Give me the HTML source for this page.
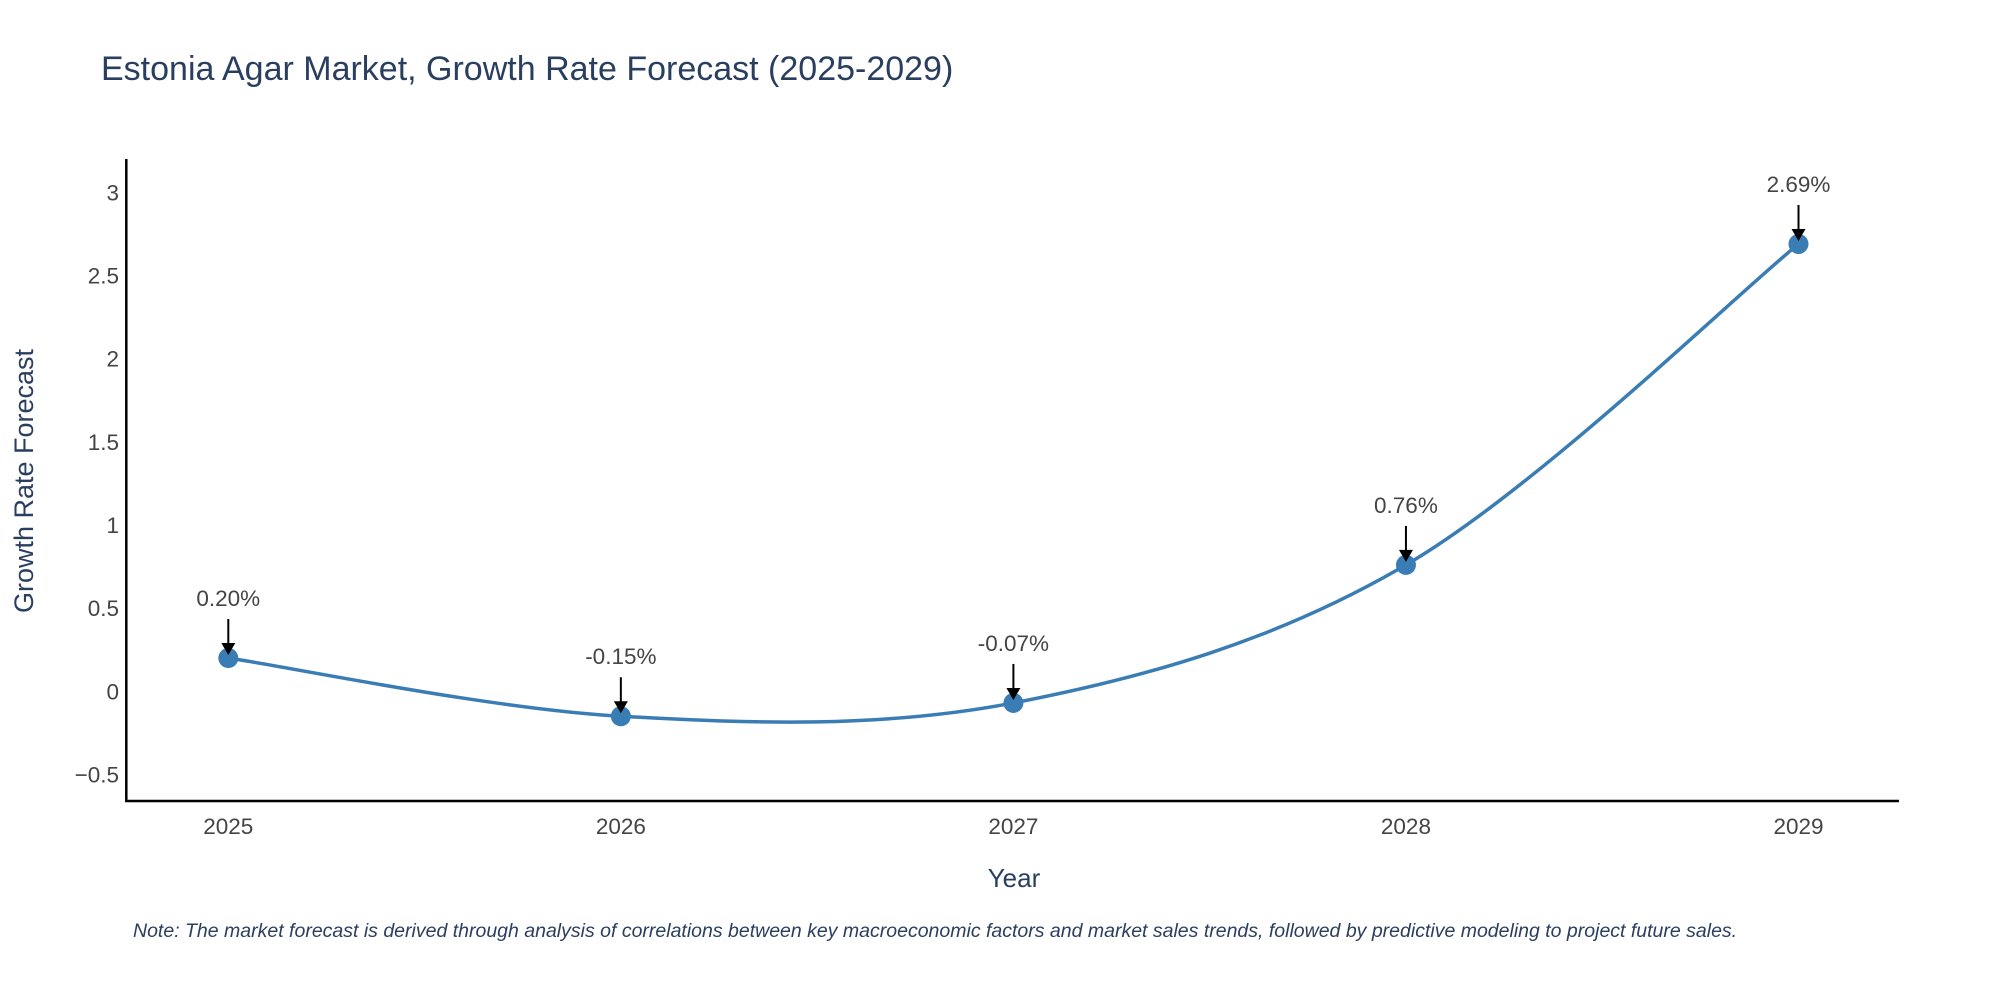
<!DOCTYPE html>
<html><head><meta charset="utf-8"><style>
body{margin:0;background:#fff}
svg{display:block;font-family:"Liberation Sans",sans-serif}
</style></head><body>
<svg id="chart" width="2000" height="1000" viewBox="0 0 2000 1000">
<text x="101" y="80" font-size="34" fill="#2a3f5f">Estonia Agar Market, Growth Rate Forecast (2025-2029)</text>
<g id="yticks"></g>
<g id="xticks"></g>
<line x1="126.3" y1="159" x2="126.3" y2="802" stroke="#000" stroke-width="2.5"/>
<line x1="125" y1="801" x2="1899" y2="801" stroke="#000" stroke-width="2.5"/>
<text transform="translate(33,481) rotate(-90)" text-anchor="middle" font-size="27" fill="#2a3f5f">Growth Rate Forecast</text>
<text x="1014" y="887" text-anchor="middle" font-size="26" fill="#2a3f5f">Year</text>
<g id="series"></g>
<g id="annots"></g>
<text x="133" y="937" font-size="19.5" font-style="italic" fill="#2a3f5f">Note: The market forecast is derived through analysis of correlations between key macroeconomic factors and market sales trends, followed by predictive modeling to project future sales.</text>
</svg>
<script>
const years = [2025, 2026, 2027, 2028, 2029];
const values = [0.20, -0.15, -0.07, 0.76, 2.69];
const labels = ["0.20%", "-0.15%", "-0.07%", "0.76%", "2.69%"];
const yTicks = [-0.5, 0, 0.5, 1, 1.5, 2, 2.5, 3];
const yTickLabels = ["\u22120.5", "0", "0.5", "1", "1.5", "2", "2.5", "3"];

const NS = "http://www.w3.org/2000/svg";
function xS(v){ return 228.3 + (v - 2025) * 392.55; }
function yS(v){ return 691.3 - v * 166.3; }
function mk(tag, attrs, parent){ const e = document.createElementNS(NS, tag); for (const k in attrs) e.setAttribute(k, attrs[k]); parent.appendChild(e); return e; }

const yt = document.getElementById("yticks");
yTicks.forEach((t, i) => {
  const e = mk("text", {x: 119, y: yS(t) + 8, "text-anchor": "end", "font-size": 22.5, fill: "#444"}, yt);
  
  
  e.textContent = yTickLabels[i];
});
const xt = document.getElementById("xticks");
years.forEach(y => {
  const e = mk("text", {x: xS(y), y: 834, "text-anchor": "middle", "font-size": 22.5, fill: "#444"}, xt);
  
  
  e.textContent = y;
});

const pts = years.map((y, i) => [xS(y), yS(values[i])]);
let d = "M" + pts[0][0] + "," + pts[0][1];
for (let i = 0; i < pts.length - 1; i++) {
  const p0 = pts[i - 1] || pts[i], p1 = pts[i], p2 = pts[i + 1], p3 = pts[i + 2] || pts[i + 1];
  const t = 1 / 6;
  const c1 = [p1[0] + (p2[0] - p0[0]) * t, p1[1] + (p2[1] - p0[1]) * t];
  const c2 = [p2[0] - (p3[0] - p1[0]) * t, p2[1] - (p3[1] - p1[1]) * t];
  d += " C" + c1 + " " + c2 + " " + p2;
}
const ser = document.getElementById("series");
const line = mk("path", {d: d, fill: "none", stroke: "#3a7db5", "stroke-width": 3.5}, ser);


const an = document.getElementById("annots");
pts.forEach((p, i) => {
  const c = mk("circle", {cx: p[0], cy: p[1], r: 10, fill: "#3a7db5"}, ser);
  
  
  const l = mk("line", {x1: p[0], y1: p[1] - 39, x2: p[0], y2: p[1] - 14, stroke: "#000", "stroke-width": 2}, an);
  
  
  const h = mk("polygon", {points: (p[0]-7)+","+(p[1]-15)+" "+(p[0]+7)+","+(p[1]-15)+" "+p[0]+","+(p[1]-3)}, an);
  
  
  const tx = mk("text", {x: p[0], y: p[1] - 52, "text-anchor": "middle", "font-size": 22.5, fill: "#444"}, an);
  
  
  tx.textContent = labels[i];
});
</script>
</body></html>
